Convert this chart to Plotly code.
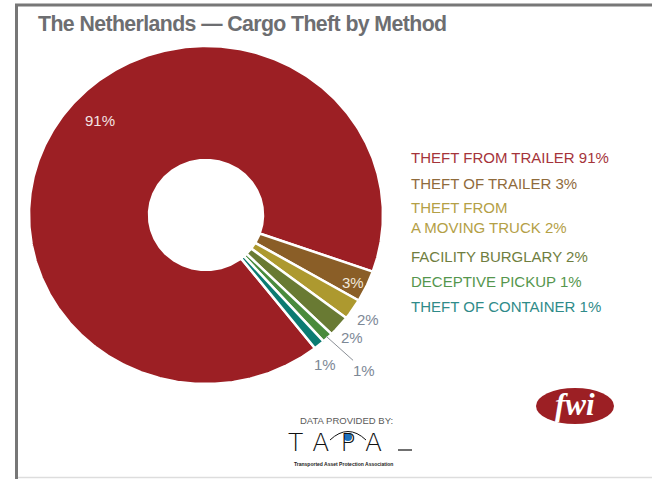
import math
import numpy as np
import plotly.graph_objects as go

# Cargo theft methods in the Netherlands (share of incidents, %)
methods = ["THEFT FROM TRAILER", "THEFT OF TRAILER", "THEFT FROM<br>A MOVING TRUCK",
           "FACILITY BURGLARY", "DECEPTIVE PICKUP", "THEFT OF CONTAINER"]
shares = [91, 3, 2, 2, 1, 1]
slice_colors = ["#9c1f24", "#8a5e27", "#ad992f", "#697a33", "#4a8b3c", "#0b7b72"]
legend_colors = ["#a5343a", "#8f6b3c", "#b4a046", "#6f7e40", "#55964d", "#2f8b89"]

W, H = 652, 479
CX, CY = 206, 215            # donut centre (pixel units of the hidden axes)
RX, RY = 177, 169            # outer radii
HX, HY = 57, 55              # hole radii
ROTATION = 142               # start of the first slice, degrees clockwise from 12 o'clock


def polar(angle_deg, scale_x, scale_y=None):
    scale_y = scale_x if scale_y is None else scale_y
    a = math.radians(angle_deg)
    return CX + scale_x * math.sin(a), CY - scale_y * math.cos(a)


fig = go.Figure()

# donut wedges, each spanning 360° * share / total
total = sum(shares)
mids = []
acc = ROTATION
for name, v, col in zip(methods, shares, slice_colors):
    span = 360 * v / total
    mids.append(acc + span / 2)
    n = max(8, int(span * 2))
    ang = np.radians(np.linspace(acc, acc + span, n))
    xs = np.concatenate([CX + RX * np.sin(ang), CX + HX * np.sin(ang[::-1])])
    ys = np.concatenate([CY - RY * np.cos(ang), CY - HY * np.cos(ang[::-1])])
    label = name.replace("<br>", " ")
    fig.add_trace(go.Scatter(
        x=np.append(xs, xs[0]), y=np.append(ys, ys[0]), mode="lines", fill="toself",
        fillcolor=col, line=dict(color="white", width=2.5),
        name=label, hoveron="fills",
        hovertemplate=f"{label}: {v}%<extra></extra>",
        showlegend=False,
    ))
    acc += span

label_font = dict(family="Liberation Sans, Arial, sans-serif", size=15)
annotations = []
# slice labels: (radius factor of outer ring, dx, dy, colour)
placement = [
    (0.82, 12, -13, "#f3e3e3"),
    (0.91, 1, 3, "#f1e8dc"),
    (1.13, -4, -2, "#7d8896"),
    (1.13, -4, -3, "#7d8896"),
    None,
    (1.13, -9, 3, "#7d8896"),
]
for i, p in enumerate(placement):
    if p is None:
        continue
    f, dx, dy, col = p
    x, y = polar(mids[i], RX * f, RY * f)
    annotations.append(dict(x=x + dx, y=y + dy, xref="x", yref="y", text=f"{shares[i]}%",
                            showarrow=False, font=dict(label_font, color=col)))

# the thin slice, labelled outside with a leader line
hx, hy = polar(mids[4], RX - 2, RY - 2)
annotations.append(dict(x=hx, y=hy, xref="x", yref="y", text=f"{shares[4]}%",
                        showarrow=True, ax=hx + 38, ay=hy + 34, axref="x", ayref="y",
                        arrowhead=0, arrowwidth=1, arrowcolor="#8a8f96",
                        standoff=0, startstandoff=0,
                        font=dict(label_font, color="#7d8896")))

# category list on the right
legend_y = [157, 183, 217, 256, 281, 306]
for name, v, col, y in zip(methods, shares, legend_colors, legend_y):
    annotations.append(dict(x=409, y=y, xref="x", yref="y", xanchor="left", yanchor="middle",
                            align="left", text=f"{name} {v}%", showarrow=False,
                            font=dict(family="Liberation Sans, Arial, sans-serif", size=15, color=col)))

# title
annotations.append(dict(x=36, y=24, xref="x", yref="y", xanchor="left", yanchor="middle",
                        text="<b><span style='letter-spacing:-0.6px'>"
                             "The Netherlands — Cargo Theft by Method</span></b>",
                        showarrow=False,
                        font=dict(family="Liberation Sans, Arial, sans-serif",
                                  size=21.3, color="#6d6e71")))

# data credit
annotations.append(dict(x=346, y=420, xref="x", yref="y", text="DATA PROVIDED BY:", showarrow=False,
                        font=dict(family="Liberation Sans, Arial, sans-serif", size=9.5, color="#5a5a5a")))
annotations.append(dict(x=340, y=442, xref="x", yref="y",
                        text="<span style='letter-spacing:11px'>TAPA</span>", showarrow=False,
                        font=dict(family="DejaVu Sans, sans-serif", size=25, color="#111111",
                                  weight=300)))
annotations.append(dict(x=343, y=464, xref="x", yref="y",
                        text="<b>Transported Asset Protection Association</b>", showarrow=False,
                        font=dict(family="Liberation Sans, Arial, sans-serif", size=5, color="#222222")))

# publisher mark
annotations.append(dict(x=575, y=404, xref="x", yref="y", text="<b><i>fwi</i></b>", showarrow=False,
                        font=dict(family="Liberation Serif, DejaVu Serif, serif", size=31, color="white")))

shapes = [
    # frame
    dict(type="line", x0=16.5, x1=16.5, y0=4, y1=H, line=dict(color="#777777", width=3)),
    dict(type="line", x0=15, x1=W, y0=5, y1=5, line=dict(color="#777777", width=3)),
    dict(type="line", x0=18, x1=W, y0=H - 1.5, y1=H - 1.5, line=dict(color="#dddddd", width=1.5)),
    # TAPA eye and underline
    dict(type="circle", x0=344, x1=352, y0=433, y1=441, fillcolor="#1e73be", line=dict(width=0)),
    dict(type="path", path="M 330 440 Q 348 423 366 440", line=dict(color="#111111", width=1)),
    dict(type="line", x0=398, x1=412, y0=450, y1=450, line=dict(color="#111111", width=1.2)),
    # publisher ellipse
    dict(type="circle", x0=536, x1=614, y0=388, y1=424, fillcolor="#9c1f24", line=dict(width=0),
         layer="below"),
]

fig.update_layout(
    width=W, height=H, margin=dict(l=0, r=0, t=0, b=0),
    paper_bgcolor="white", plot_bgcolor="rgba(0,0,0,0)",
    xaxis=dict(range=[0, W], visible=False, fixedrange=True),
    yaxis=dict(range=[H, 0], visible=False, fixedrange=True),
    annotations=annotations, shapes=shapes, hovermode="closest",
)

fig.write_html("out.html")
